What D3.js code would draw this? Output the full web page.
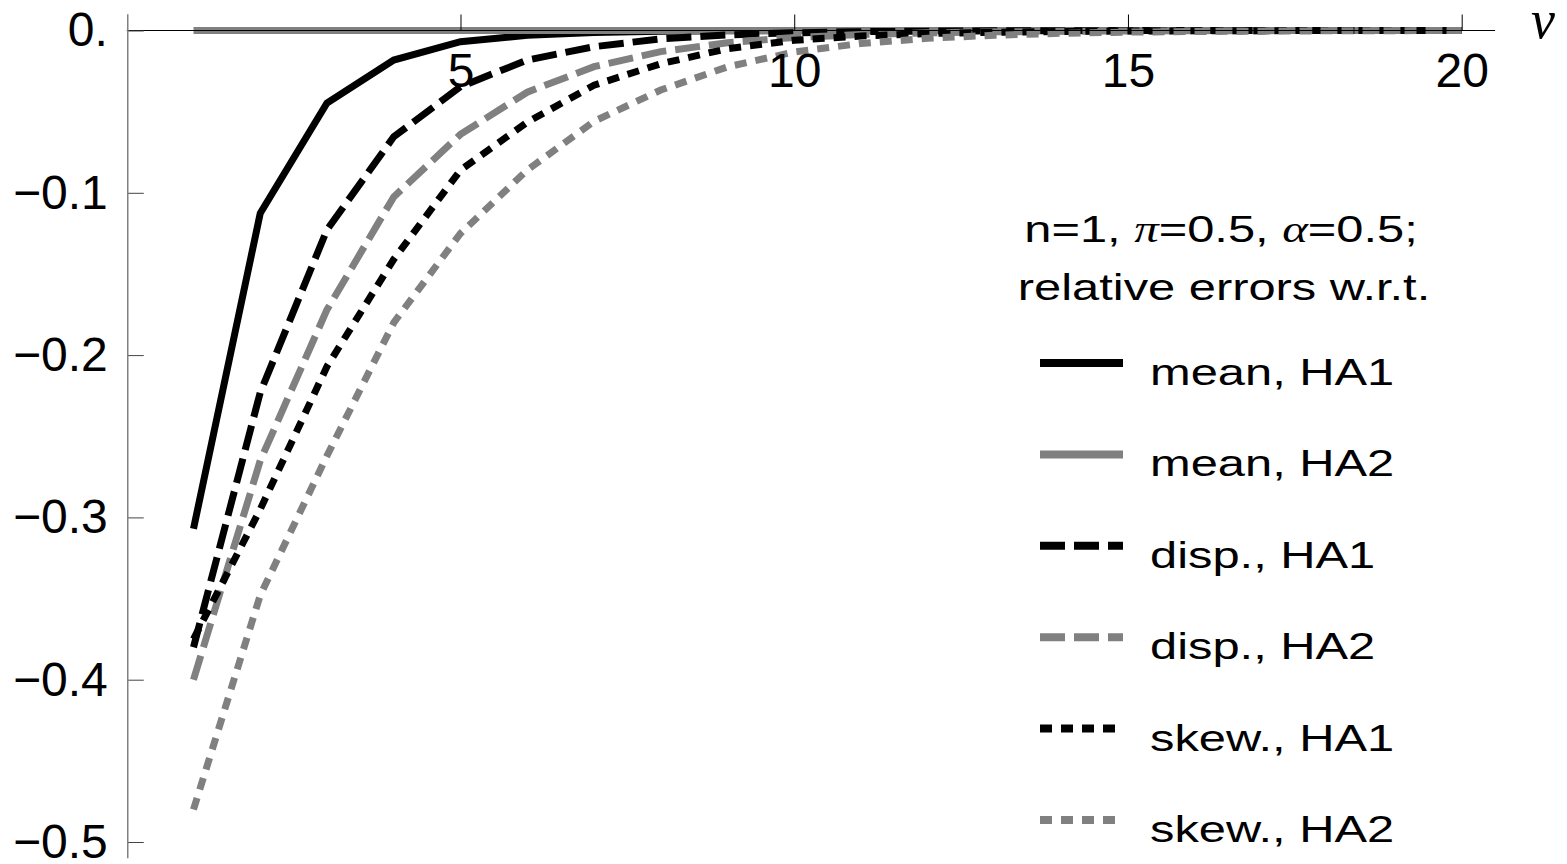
<!DOCTYPE html>
<html>
<head>
<meta charset="utf-8">
<script src="https://cdn.jsdelivr.net/npm/d3@7"></script>
<style>
  body { margin: 0; background: #fff; }
  text { font-family: "Liberation Sans", Arial, sans-serif; fill: #000; }
</style>
</head>
<body>
<div id="chart"></div>
<script>
// nu values and relative errors
const nuValues = [1, 2, 3, 4, 5, 6, 7, 8, 9, 10, 11, 12, 13, 14, 15, 16, 17, 18, 19, 20];

const meanHA1 = [-0.307, -0.1126, -0.0447, -0.0182, -0.0069, -0.003, -0.0012, -0.0005, -0.0002, 0, 0, 0, 0, 0, 0, 0, 0, 0, 0, 0];
const meanHA2 = [0, 0, 0, 0, 0, 0, 0, 0, 0, 0, 0, 0, 0, 0, 0, 0, 0, 0, 0, 0];
const dispHA1 = [-0.380, -0.223, -0.1228, -0.0655, -0.0346, -0.0182, -0.0100, -0.0051, -0.0027, -0.0014, -0.0007, -0.0004, -0.0002, -0.0001, 0, 0, 0, 0, 0, 0];
const dispHA2 = [-0.400, -0.265, -0.172, -0.1025, -0.064, -0.038, -0.0223, -0.013, -0.0075, -0.0043, -0.0025, -0.0014, -0.0008, -0.0005, -0.0003, -0.0002, -0.0001, 0, 0, 0];
const skewHA1 = [-0.375, -0.295, -0.207, -0.141, -0.086, -0.0565, -0.0337, -0.0205, -0.0112, -0.006, -0.0034, -0.0019, -0.0011, -0.0006, -0.0003, -0.0002, -0.0001, 0, 0, 0];
const skewHA2 = [-0.480, -0.348, -0.262, -0.180, -0.125, -0.086, -0.056, -0.0367, -0.0224, -0.0132, -0.008, -0.0048, -0.0029, -0.0017, -0.001, -0.0006, -0.0004, -0.0002, -0.0001, 0];

const seriesLabels = ["mean, HA1", "mean, HA2", "disp., HA1", "disp., HA2", "skew., HA1", "skew., HA2"];
const xTicks = [5, 10, 15, 20];
const yTicks = [0, -0.1, -0.2, -0.3, -0.4, -0.5];

const allSeries = [meanHA1, meanHA2, dispHA1, dispHA2, skewHA1, skewHA2];

// line styles: black / gray, solid / dashed / dotted
const gray = "#808080";
const styles = [
  {color: "#000", dash: null},
  {color: gray, dash: null},
  {color: "#000", dash: "25,9"},
  {color: gray, dash: "25,9"},
  {color: "#000", dash: "12,9"},
  {color: gray, dash: "12,9"}
];

const width = 1567, height = 864;
// legend text in the picture is wider than the font, so stretch it a bit
const legendFont = 37, legendStretch = 1.32;
const serif = "'Liberation Serif', 'Times New Roman', serif";

const svg = d3.select("#chart").append("svg")
  .attr("width", width)
  .attr("height", height);

// scales: axes cross at (0, 0)
const x = d3.scaleLinear().domain([0, 20]).range([126.75, 1461.7]);
const y = d3.scaleLinear().domain([-0.5, 0]).range([842, 30.5]);

// curves first, axes drawn on top
const line = d3.line()
  .x((d, i) => x(nuValues[i]))
  .y(d => y(d));

svg.append("g")
  .selectAll("path")
  .data(allSeries)
  .enter()
  .append("path")
  .attr("d", d => line(d))
  .attr("fill", "none")
  .attr("stroke", (d, i) => styles[i].color)
  .attr("stroke-width", 7)
  .attr("stroke-linecap", "butt")
  .attr("stroke-dasharray", (d, i) => styles[i].dash);

// x axis (ticks point up, labels below)
const xAxis = svg.append("g")
  .attr("transform", `translate(0,${y(0)})`)
  .call(d3.axisBottom(x)
    .tickValues(xTicks)
    .tickSizeInner(-16)
    .tickSizeOuter(0)
    .tickPadding(22));
xAxis.select(".domain").remove();
xAxis.selectAll("line").attr("stroke", "#000").attr("stroke-width", 1);
xAxis.selectAll("text").style("font-size", "48px").attr("fill", "#000");

svg.append("line")
  .attr("x1", x(0)).attr("x2", x(20.5))
  .attr("y1", y(0)).attr("y2", y(0))
  .attr("stroke", "#000")
  .attr("stroke-width", 1.2);

// y axis (ticks point right, labels left)
const yAxis = svg.append("g")
  .attr("transform", `translate(${x(0) + 1},0)`)
  .call(d3.axisLeft(y)
    .tickValues(yTicks)
    .tickSizeInner(-16)
    .tickSizeOuter(0)
    .tickPadding(20)
    .tickFormat(d => d === 0 ? "0." : d3.format(".1f")(d)));
yAxis.select(".domain").remove();
yAxis.selectAll("line").attr("stroke", "#444").attr("stroke-width", 1);
yAxis.selectAll("text").style("font-size", "48px").attr("fill", "#000");

svg.append("line")
  .attr("x1", x(0) + 1).attr("x2", x(0) + 1)
  .attr("y1", y(0.01)).attr("y2", y(-0.51))
  .attr("stroke", gray)
  .attr("stroke-width", 1.5);

// axis label
svg.append("text")
  .attr("x", 1531)
  .attr("y", 38)
  .style("font-family", serif)
  .style("font-style", "italic")
  .style("font-size", "54px")
  .text("ν");

// legend header
const header = svg.append("text")
  .attr("transform", `translate(1221,242) scale(${legendStretch},1)`)
  .attr("text-anchor", "middle")
  .style("font-size", legendFont + "px");
header.append("tspan").text("n=1, ");
header.append("tspan")
  .style("font-family", serif)
  .style("font-style", "italic")
  .text("π");
header.append("tspan").text("=0.5, ");
header.append("tspan")
  .style("font-family", serif)
  .style("font-style", "italic")
  .text("α");
header.append("tspan").text("=0.5;");

svg.append("text")
  .attr("transform", `translate(1224,300) scale(${legendStretch},1)`)
  .attr("text-anchor", "middle")
  .style("font-size", legendFont + "px")
  .text("relative errors w.r.t.");

// legend entries
const legendTop = 363, legendStep = 91.4;
const legend = svg.append("g");

legend.selectAll("line")
  .data(seriesLabels)
  .enter()
  .append("line")
  .attr("x1", 1040)
  .attr("x2", 1123)
  .attr("y1", (d, i) => legendTop + i * legendStep)
  .attr("y2", (d, i) => legendTop + i * legendStep)
  .attr("stroke", (d, i) => styles[i].color)
  .attr("stroke-width", 8)
  .attr("stroke-dasharray", (d, i) => styles[i].dash);

legend.selectAll("text")
  .data(seriesLabels)
  .enter()
  .append("text")
  .attr("transform", (d, i) => `translate(1150,${legendTop + i * legendStep + 22}) scale(${legendStretch},1)`)
  .style("font-size", legendFont + "px")
  .text(d => d);
</script>
</body>
</html>
